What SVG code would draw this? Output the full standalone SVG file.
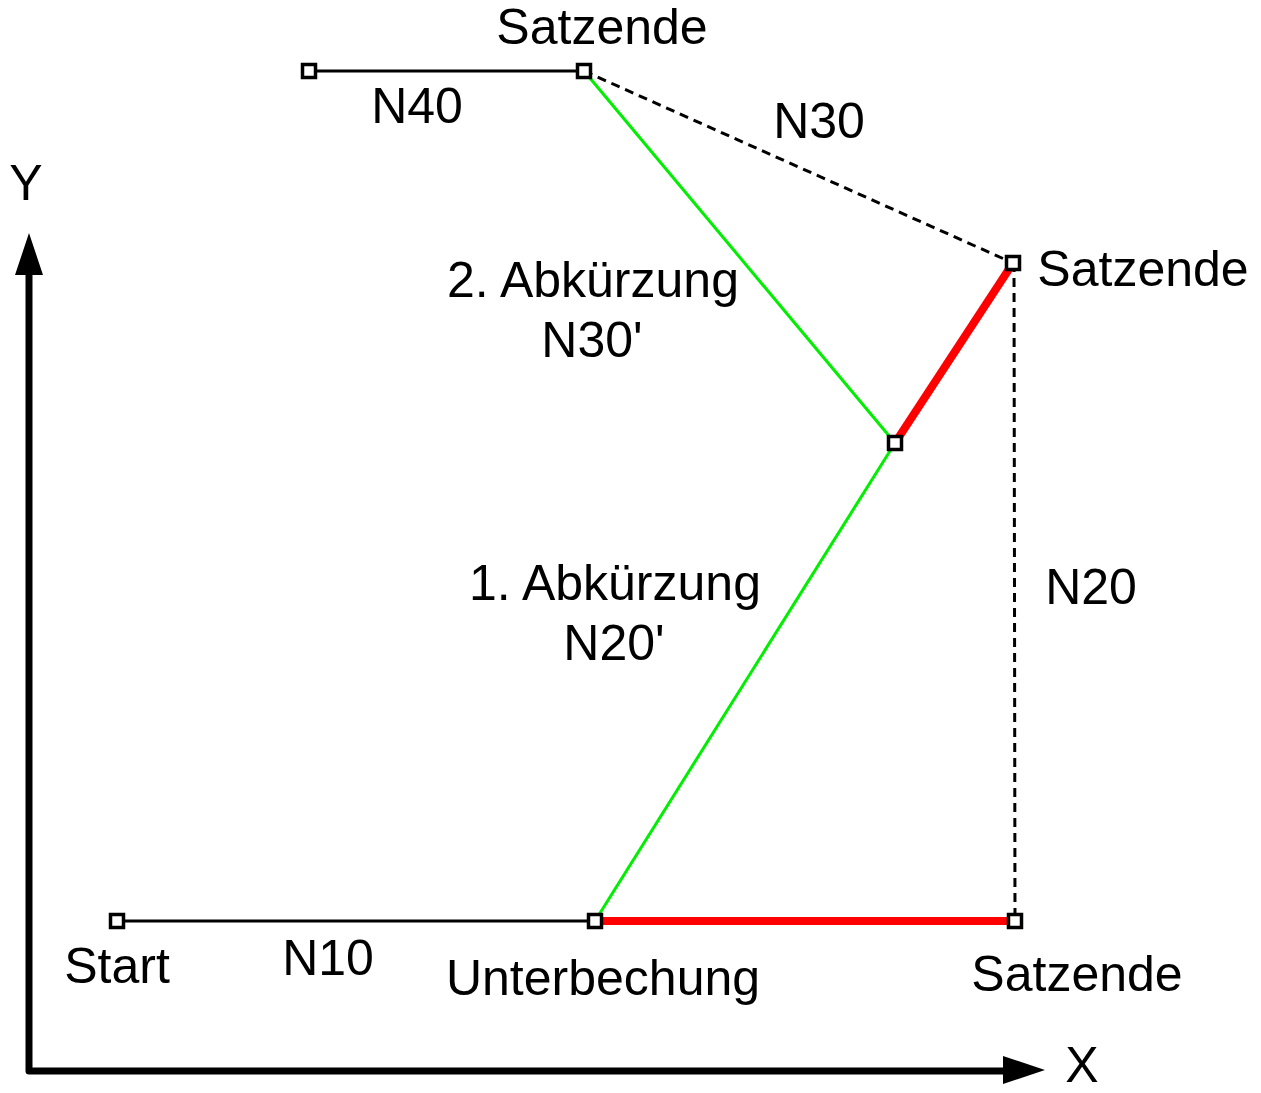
<svg xmlns="http://www.w3.org/2000/svg" width="1261" height="1093" viewBox="0 0 1261 1093">
<style>
text{font-family:"Liberation Sans",Arial,sans-serif;font-size:50px;fill:#000;text-anchor:middle}
.blk{stroke:#000;stroke-width:3;fill:none}
.dash{stroke:#000;stroke-width:3;fill:none;stroke-dasharray:9,6}
.grn{stroke:#00ee00;stroke-width:3;fill:none}
.red{stroke:#ff0000;stroke-width:8;fill:none}
.axis{stroke:#000;stroke-width:7;fill:none;stroke-linejoin:round}
.pt{fill:#fff;stroke:#000;stroke-width:3.5}
</style>
<g id="connectors">
<path class="axis" d="M29 272 V1071 H1006"/>
<polygon points="29,233 15,275 43,275" fill="#000"/>
<polygon points="1045,1070 1003,1056 1003,1084" fill="#000"/>
<line class="blk" x1="309" y1="71" x2="584" y2="71"/>
<line class="dash" x1="584" y1="71" x2="1013" y2="263"/>
<line class="dash" x1="1014" y1="263" x2="1015" y2="921"/>
<line class="blk" x1="117" y1="921" x2="595" y2="921"/>
<line class="grn" x1="584" y1="71" x2="895" y2="443"/>
<line class="grn" x1="895" y1="443" x2="595" y2="921"/>
<line class="red" x1="595" y1="921" x2="1015" y2="921"/>
<line class="red" x1="895" y1="443" x2="1013" y2="263"/>
</g>
<g id="p1"><rect class="pt" x="302.5" y="64.5" width="13" height="13"/></g>
<g id="p2"><rect class="pt" x="577.5" y="64.5" width="13" height="13"/></g>
<g id="p3"><rect class="pt" x="1006.5" y="256.5" width="13" height="13"/></g>
<g id="p4"><rect class="pt" x="888.5" y="436.5" width="13" height="13"/></g>
<g id="p5"><rect class="pt" x="110.5" y="914.5" width="13" height="13"/></g>
<g id="p6"><rect class="pt" x="588.5" y="914.5" width="13" height="13"/></g>
<g id="p7"><rect class="pt" x="1008.5" y="914.5" width="13" height="13"/></g>
<g id="labels">
<text x="602" y="44">Satzende</text>
<text x="417" y="123">N40</text>
<text x="819" y="138">N30</text>
<text x="26" y="200">Y</text>
<text x="1143" y="286">Satzende</text>
<text x="593" y="297">2. Abkürzung</text>
<text x="592" y="357">N30'</text>
<text x="615" y="600">1. Abkürzung</text>
<text x="614" y="660">N20'</text>
<text x="1091" y="604">N20</text>
<text x="117" y="983">Start</text>
<text x="328" y="975">N10</text>
<text x="603" y="995">Unterbechung</text>
<text x="1077" y="991">Satzende</text>
<text x="1082" y="1082">X</text>
</g>
</svg>
